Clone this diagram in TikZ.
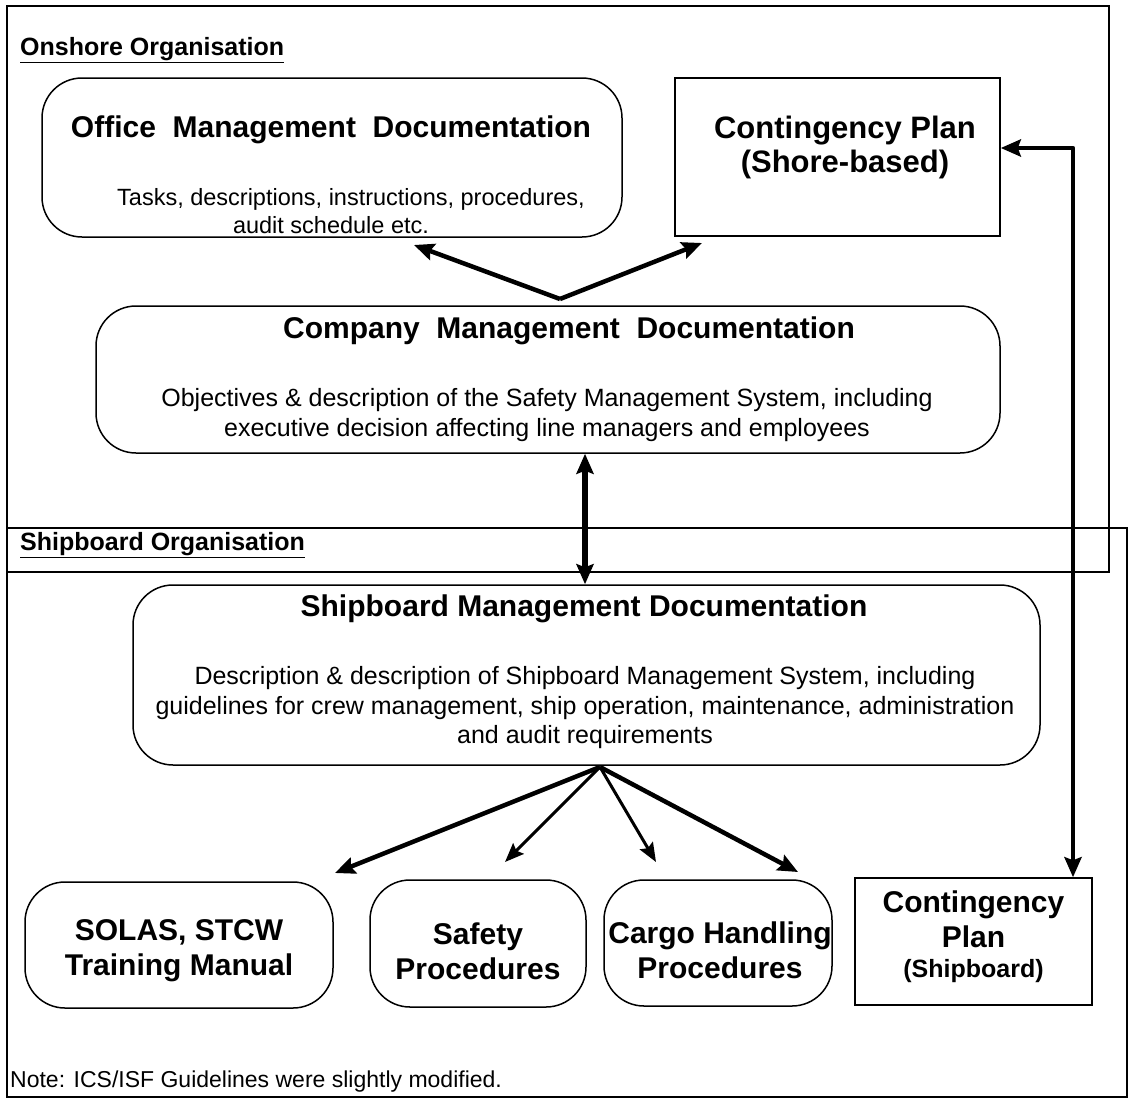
\documentclass[tikz,border=0pt]{standalone}
\usepackage{fontspec}
\setmainfont{Liberation Sans}
\usetikzlibrary{arrows.meta,calc}
\begin{document}
\begin{tikzpicture}[x=1pt,y=-1pt,
  rbox/.style={draw, line width=1.5pt, rounded corners=40pt, inner sep=0pt},
  sbox/.style={draw, line width=1.5pt, inner sep=0pt},
  frame/.style={draw, line width=1.3pt},
  ttl/.style={font=\bfseries\fontsize{30}{34}\selectfont, align=center, inner sep=0pt},
  btl/.style={font=\bfseries\fontsize{30}{35}\selectfont, align=center, inner sep=0pt},
  body/.style={font=\fontsize{25}{29.5}\selectfont, align=center, inner sep=0pt},
  sect/.style={font=\bfseries\fontsize{25}{28}\selectfont, anchor=west, inner sep=0pt},
  arr/.style={line width=4.5pt, -{Stealth[length=20pt,width=17pt,inset=3pt]}},
  arrthin/.style={line width=3pt, -{Stealth[length=19pt,width=15pt,inset=3pt]}},
  darr/.style={line width=6pt, {Stealth[length=20pt,width=17pt,inset=3pt]}-{Stealth[length=20pt,width=17pt,inset=3pt]}},
  rarr/.style={line width=4.5pt, {Stealth[length=20pt,width=17pt,inset=3pt]}-{Stealth[length=20pt,width=17pt,inset=3pt]}}
]
\useasboundingbox (0,0) rectangle (1132,1100);
% frames
\draw[frame] (7,6) rectangle (1109,572);
\draw[frame] (7,528) rectangle (1127,1097);
\node[sect] (onshore) at (20,50) {\underline{Onshore Organisation}};
\node[sect] (shipboardorg) at (20,545) {\underline{Shipboard Organisation}};

% boxes
\node[rbox, minimum width=580pt, minimum height=159pt] (office) at (332,157.5) {};
\node[ttl] (officet) at (331,130) {Office\ \ Management\ \ Documentation};
\node[body, font=\fontsize{23.5}{28}\selectfont] (officeb) at (351,211) {Tasks, descriptions, instructions, procedures,\\audit schedule etc.\hspace*{40pt}};

\node[sbox, minimum width=325pt, minimum height=158pt] (cshore) at (837.5,157) {};
\node[ttl, font=\bfseries\fontsize{31}{34}\selectfont] (cshoret) at (845,147) {Contingency Plan\\(Shore-based)};

\node[rbox, minimum width=904pt, minimum height=147pt] (company) at (548,379.5) {};
\node[ttl] (companyt) at (569,331) {Company\ \ Management\ \ Documentation};
\node[body] (companyb) at (547,415) {Objectives \& description of the Safety Management System, including\\executive decision affecting line managers and employees};

\node[rbox, minimum width=907pt, minimum height=180pt] (ship) at (586.5,675) {};
\node[ttl] (shipt) at (584,609) {Shipboard Management Documentation};
\node[body] (shipb) at (585,708) {Description \& description of Shipboard Management System, including\\guidelines for crew management, ship operation, maintenance, administration\\and audit requirements};

\node[rbox, minimum width=308pt, minimum height=126pt] (solas) at (179,945) {};
\node[btl] (solast) at (179,951) {SOLAS, STCW\\Training Manual};

\node[rbox, minimum width=216pt, minimum height=127pt] (safety) at (478,943.5) {};
\node[btl] (safetyt) at (478,951) {Safety\\Procedures};

\node[rbox, minimum width=228pt, minimum height=126pt] (cargo) at (718,943) {};
\node[btl] (cargot) at (720,950) {Cargo Handling\\Procedures};

\node[sbox, minimum width=237pt, minimum height=127pt] (cship) at (973.5,941.5) {};
\node[btl] (cshipt) at (973.5,919.5) {Contingency\\Plan};
\node[font=\bfseries\fontsize{25}{28}\selectfont, inner sep=0pt] (cshipt2) at (973.5,971) {(Shipboard)};

\node[font=\fontsize{23}{26}\selectfont, anchor=west, inner sep=0pt] (note) at (10,1082) {Note: ICS/ISF Guidelines were slightly modified.};

% connectors
\coordinate (apex1) at (560,299);
\coordinate (t1) at (414,245);
\coordinate (t2) at (702,243);
\draw[arr] (apex1) -- (t1);
\draw[arr] (apex1) -- (t2);

\draw[darr] (company.south -| 585,0) -- (ship.north -| 585,0);

\coordinate (apex2) at (600,767);
\coordinate (b1) at (335,873);
\coordinate (b2) at (505,862);
\coordinate (b3) at (656,862);
\coordinate (b4) at (798,872);
\draw[arr] (apex2) -- (b1);
\draw[arrthin] (apex2) -- (b2);
\draw[arrthin] (apex2) -- (b3);
\draw[arr] (apex2) -- (b4);

\draw[rarr, line join=round] (cship.north -| 1073,0) -- (1073,148) -- (cshore.east |- 0,148);
\end{tikzpicture}
\end{document}
